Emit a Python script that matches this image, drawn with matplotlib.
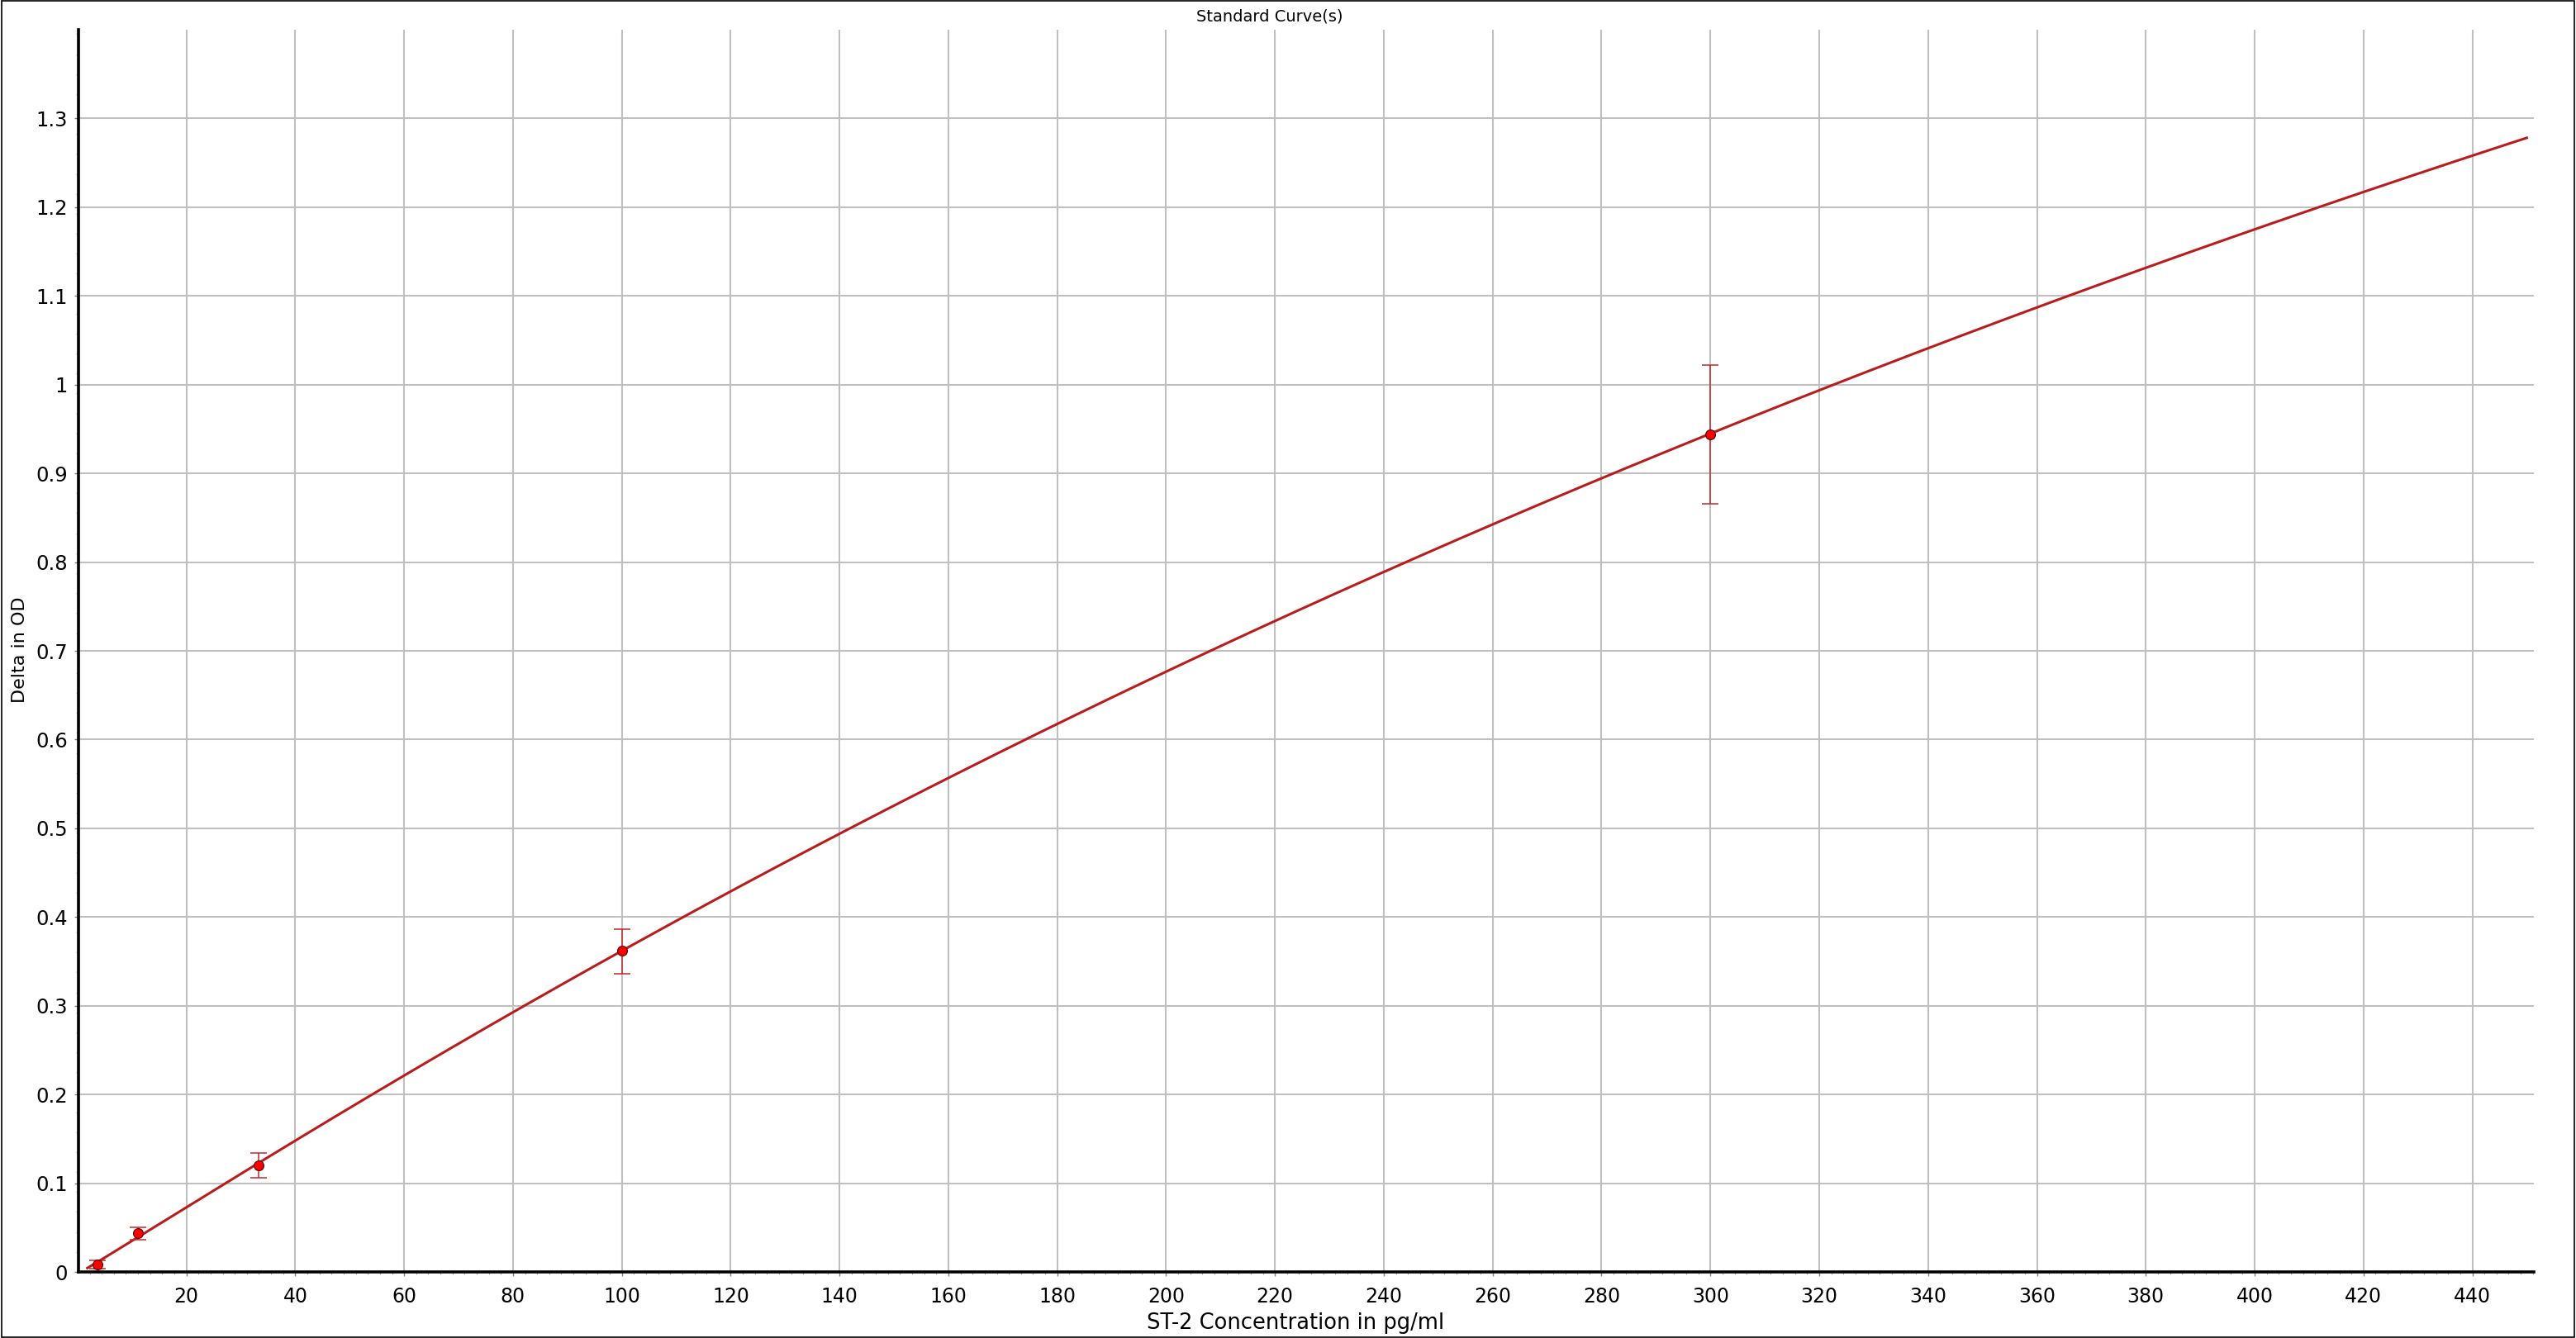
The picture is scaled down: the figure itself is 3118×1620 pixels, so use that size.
import numpy as np
import matplotlib
matplotlib.use("Agg")
import matplotlib.pyplot as plt
from matplotlib.ticker import FixedLocator, MultipleLocator, AutoMinorLocator
from matplotlib.patches import Rectangle

# ---- data ----
conc = [3.7, 11.1, 33.3, 100.0, 300.0]              # pg/ml
od = [0.0085, 0.044, 0.120, 0.362, 0.944]            # delta OD
od_err_low = [0.005, 0.008, 0.014, 0.026, 0.078]
od_err_high = [0.0045, 0.0066, 0.014, 0.024, 0.078]

# 4-parameter logistic standard-curve fit
fit_bottom = -0.002
fit_top = 3.988
fit_ec50 = 932.0
fit_hill = 1.03
fit_xmin = 1.8
fit_xmax = 450.0

x_ticks = list(range(20, 441, 20))
y_ticks = [0, 0.1, 0.2, 0.3, 0.4, 0.5, 0.6, 0.7, 0.8, 0.9, 1.0, 1.1, 1.2, 1.3]
y_tick_labels = ["0", "0.1", "0.2", "0.3", "0.4", "0.5", "0.6", "0.7", "0.8",
                 "0.9", "1", "1.1", "1.2", "1.3"]

title = "Standard Curve(s)"
x_label = "ST-2 Concentration in pg/ml"
y_label = "Delta in OD"

# ---- figure ----
W, H, DPI = 3118, 1620, 100
plt.rcParams['font.family'] = ['DejaVu Sans']
fig = plt.figure(figsize=(W / DPI, H / DPI), dpi=DPI)
ax = fig.add_axes([95 / W, 1 - 1540 / H, (3067 - 95) / W, (1540 - 36) / H])

ax.set_xlim(0.17, 451.3)
ax.set_ylim(0, 1.4)

# grid
ax.grid(True, which='major', color='#c0c0c0', linewidth=1.5, zorder=0)
ax.set_axisbelow(True)

# fitted curve
xs = np.linspace(fit_xmin, fit_xmax, 600)
u = (xs / fit_ec50) ** fit_hill
ys = fit_bottom + (fit_top - fit_bottom) * u / (1 + u)
ax.plot(xs, ys, color='#b91c1c', linewidth=2.2, zorder=3)

# points with error bars
ax.errorbar(conc, od, yerr=[od_err_low, od_err_high], fmt='none',
            ecolor='#c02a2a', elinewidth=1.1, capsize=7, capthick=1.1, zorder=4)
ax.plot(conc, od, linestyle='none', marker='o', markersize=8.5,
        markerfacecolor='#ff0000', markeredgecolor='#5a0000',
        markeredgewidth=0.9, zorder=5)

# ticks
ax.xaxis.set_major_locator(FixedLocator(x_ticks))
ax.set_xticklabels([str(v) for v in x_ticks], fontsize=17)
ax.yaxis.set_major_locator(FixedLocator(y_ticks))
ax.set_yticklabels(y_tick_labels, fontsize=17.5)
ax.xaxis.set_minor_locator(AutoMinorLocator(9))
ax.yaxis.set_minor_locator(MultipleLocator(0.0225))
ax.tick_params(axis='both', which='major', direction='out', length=3.5,
               width=1.0, color='#808080', colors='black')
ax.tick_params(axis='both', which='minor', direction='out', length=2.5,
               width=0.8, color='#b0b0b0')
ax.tick_params(axis='x', which='major', pad=9.5)
ax.tick_params(axis='y', which='major', pad=6)

# spines
for s in ('top', 'right'):
    ax.spines[s].set_visible(False)
for s in ('left', 'bottom'):
    ax.spines[s].set_linewidth(2.6)
    ax.spines[s].set_color('black')

# labels
fig.text(1537 / W, 1 - 20 / H, title, ha='center', va='center', fontsize=14)
fig.text(1568 / W, 1 - 1602 / H, x_label, ha='center', va='center', fontsize=18.5)
fig.text(24 / W, 1 - 787 / H, y_label, ha='center', va='center',
         rotation=90, fontsize=16)

# figure border
fig.patches.append(Rectangle((0.0005, 0.0008), 0.999, 0.9984, transform=fig.transFigure,
                             fill=False, edgecolor='black', linewidth=1.2))

fig.savefig("out.png", dpi=DPI)
